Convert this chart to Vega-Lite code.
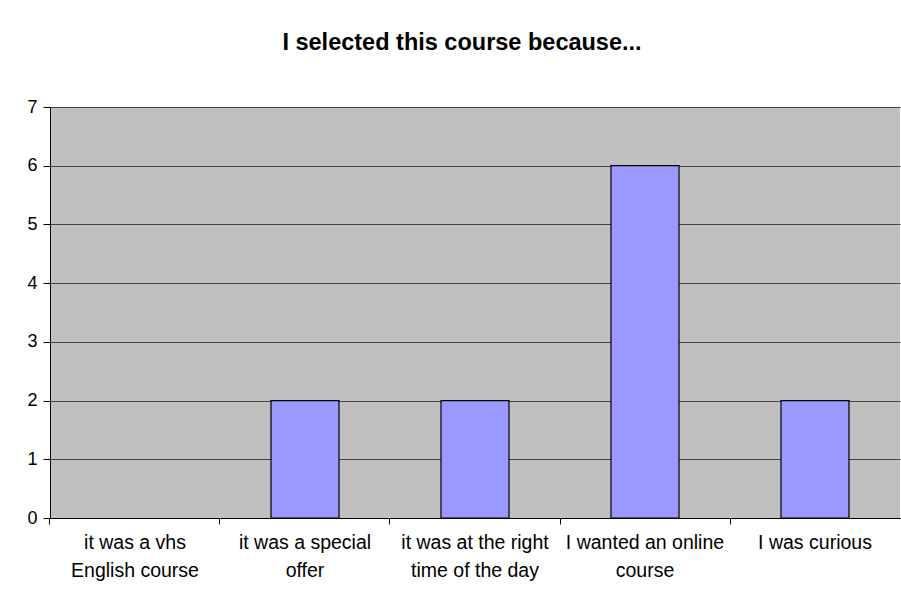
{
  "$schema": "https://vega.github.io/schema/vega-lite/v6.json",
  "autosize": "none",
  "width": 850,
  "height": 411,
  "padding": {"left": 50, "top": 107, "right": 1, "bottom": 80},
  "background": "white",
  "title": {
    "text": "I selected this course because...",
    "font": "Liberation Sans",
    "fontSize": 23.5,
    "fontWeight": "bold",
    "color": "black",
    "offset": 44,
    "dx": -13
  },
  "data": {
    "values": [
      {"reason": "it was a vhs English course", "count": 0},
      {"reason": "it was a special offer", "count": 2},
      {"reason": "it was at the right time of the day", "count": 2},
      {"reason": "I wanted an online course", "count": 6},
      {"reason": "I was curious", "count": 2}
    ]
  },
  "mark": {"type": "bar", "fill": "#9999FF", "stroke": "black", "strokeWidth": 1.2},
  "encoding": {
    "x": {
      "field": "reason",
      "type": "nominal",
      "sort": null,
      "scale": {"paddingInner": 0.6, "paddingOuter": 0.3},
      "axis": {
        "title": null,
        "labelAngle": 0,
        "labelFont": "Liberation Sans",
        "labelFontSize": 19.5,
        "labelColor": "black",
        "labelLineHeight": 28,
        "labelPadding": 9,
        "labelExpr": "{'it was a vhs English course': ['it was a vhs', 'English course'], 'it was a special offer': ['it was a special', 'offer'], 'it was at the right time of the day': ['it was at the right', 'time of the day'], 'I wanted an online course': ['I wanted an online', 'course'], 'I was curious': ['I was curious']}[datum.value]",
        "bandPosition": -0.75,
        "tickSize": 6,
        "tickColor": "black",
        "domainColor": "black",
        "grid": false
      }
    },
    "y": {
      "field": "count",
      "type": "quantitative",
      "scale": {"domain": [0, 7], "nice": false},
      "axis": {
        "title": null,
        "values": [0, 1, 2, 3, 4, 5, 6, 7],
        "labelFont": "Liberation Sans",
        "labelFontSize": 18,
        "labelColor": "black",
        "labelPadding": 6,
        "tickSize": 7,
        "tickColor": "black",
        "domainColor": "black",
        "gridColor": "#444444",
        "gridOpacity": 1,
        "grid": true
      }
    },
    "strokeOpacity": {
      "condition": {"test": "datum.count == 0", "value": 0},
      "value": 1
    }
  },
  "config": {
    "view": {"fill": "#C0C0C0", "stroke": null},
    "axis": {"domainWidth": 1, "tickWidth": 1, "gridWidth": 1}
  }
}
